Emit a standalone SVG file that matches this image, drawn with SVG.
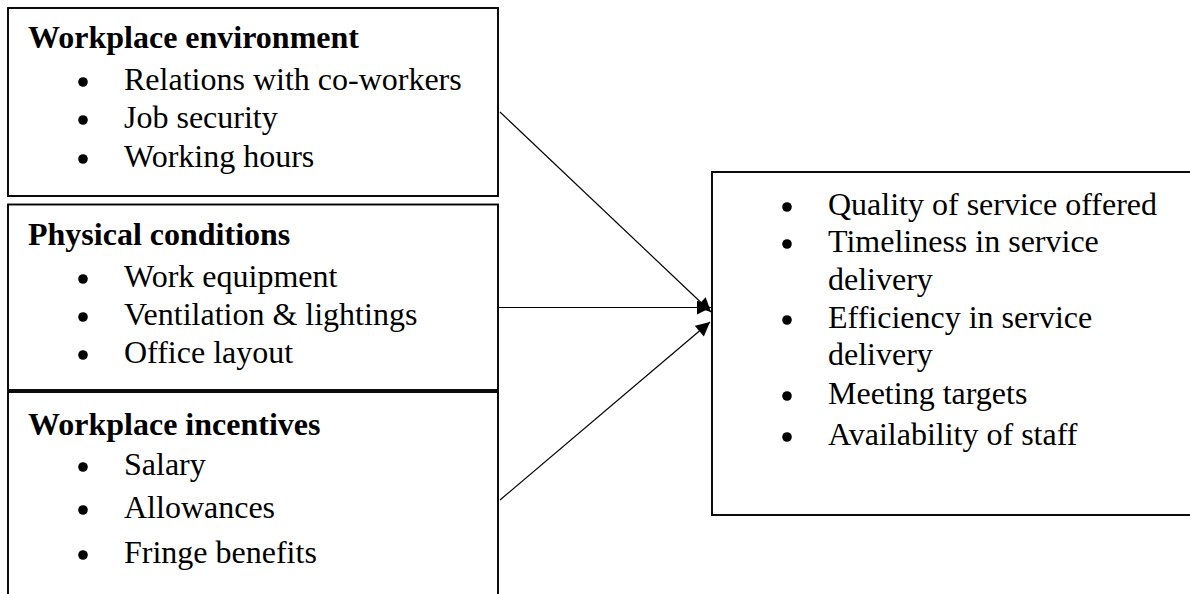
<svg xmlns="http://www.w3.org/2000/svg" width="1190" height="594" viewBox="0 0 1190 594">
  <style>
    .box { fill: #ffffff; stroke: #000000; stroke-width: 1.9; }
    .head { font-family: "Liberation Serif", "Times New Roman", serif; font-size: 32px; font-weight: bold; fill: #000000; }
    .item { font-family: "Liberation Serif", "Times New Roman", serif; font-size: 32px; fill: #000000; }
    .dot { fill: #000000; }
    .link { stroke: #000000; stroke-width: 1.2; fill: none; marker-end: url(#arrow); }
  </style>
  <defs>
    <marker id="arrow" viewBox="0 0 10 10" refX="10" refY="5" markerWidth="15" markerHeight="14" markerUnits="userSpaceOnUse" orient="auto">
      <path d="M0,0 L10,5 L0,10 z" fill="#000000"/>
    </marker>
  </defs>
  <rect width="1190" height="594" fill="#ffffff"/>

  <!-- Left column: factor boxes -->
  <g id="workplace-environment">
    <rect class="box" x="8" y="8" width="490" height="188"/>
    <text class="head" x="28" y="48">Workplace environment</text>
    <circle class="dot" cx="83" cy="82" r="4.8"/>
    <text class="item" x="124" y="90">Relations with co-workers</text>
    <circle class="dot" cx="83" cy="120" r="4.8"/>
    <text class="item" x="124" y="128">Job security</text>
    <circle class="dot" cx="83" cy="159" r="4.8"/>
    <text class="item" x="124" y="167">Working hours</text>
  </g>

  <g id="physical-conditions">
    <rect class="box" x="8" y="204.5" width="490" height="185.5"/>
    <text class="head" x="28" y="245">Physical conditions</text>
    <circle class="dot" cx="83" cy="279" r="4.8"/>
    <text class="item" x="124" y="287">Work equipment</text>
    <circle class="dot" cx="83" cy="317" r="4.8"/>
    <text class="item" x="124" y="325">Ventilation &amp; lightings</text>
    <circle class="dot" cx="83" cy="355" r="4.8"/>
    <text class="item" x="124" y="363">Office layout</text>
  </g>

  <g id="workplace-incentives">
    <rect class="box" x="8" y="392" width="490" height="220"/>
    <text class="head" x="28" y="435">Workplace incentives</text>
    <circle class="dot" cx="83" cy="467" r="4.8"/>
    <text class="item" x="124" y="475">Salary</text>
    <circle class="dot" cx="83" cy="510" r="4.8"/>
    <text class="item" x="124" y="518">Allowances</text>
    <circle class="dot" cx="83" cy="555" r="4.8"/>
    <text class="item" x="124" y="563">Fringe benefits</text>
  </g>

  <!-- Right column: outcome box -->
  <g id="service-outcomes">
    <rect class="box" x="712" y="172" width="500" height="343"/>
    <circle class="dot" cx="787" cy="207" r="4.8"/>
    <text class="item" x="828" y="215">Quality of service offered</text>
    <circle class="dot" cx="787" cy="244" r="4.8"/>
    <text class="item" x="828" y="252">Timeliness in service</text>
    <text class="item" x="828" y="290">delivery</text>
    <circle class="dot" cx="787" cy="320" r="4.8"/>
    <text class="item" x="828" y="328">Efficiency in service</text>
    <text class="item" x="828" y="365">delivery</text>
    <circle class="dot" cx="787" cy="396" r="4.8"/>
    <text class="item" x="828" y="404">Meeting targets</text>
    <circle class="dot" cx="787" cy="437" r="4.8"/>
    <text class="item" x="828" y="445">Availability of staff</text>
  </g>

  <!-- Connectors -->
  <g id="connectors">
    <line class="link" x1="500" y1="112" x2="711" y2="312"/>
    <line class="link" x1="498" y1="307.5" x2="711" y2="307.5"/>
    <line class="link" x1="500" y1="500" x2="710" y2="322"/>
  </g>
</svg>
